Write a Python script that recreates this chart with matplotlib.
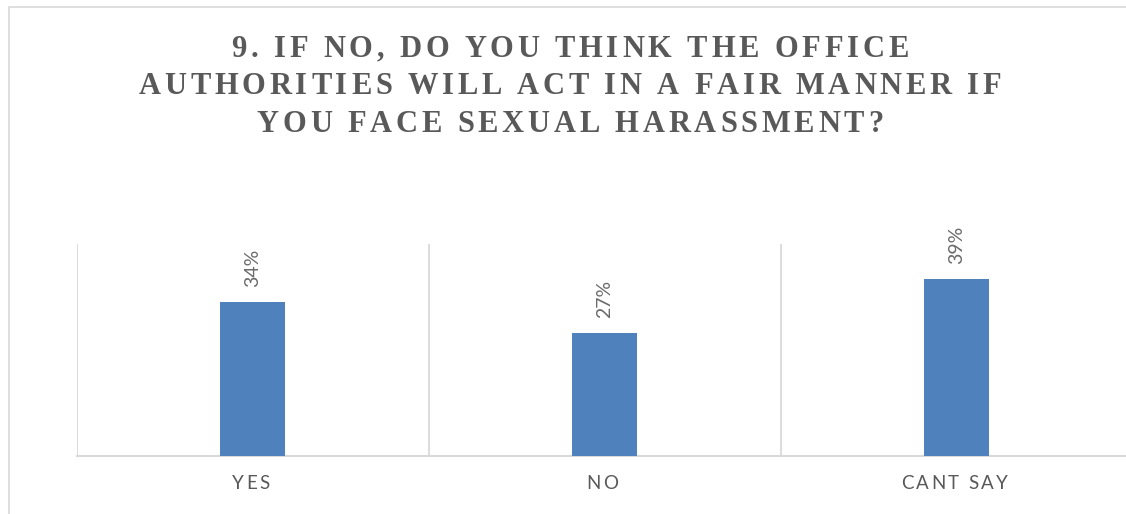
import matplotlib
matplotlib.use("Agg")
import matplotlib.pyplot as plt
from matplotlib import font_manager as fm
from matplotlib.patches import Rectangle

# ---- data ----
categories = ["YES", "NO", "CANT SAY"]
shares = [34, 27, 39]
value_labels = ["34%", "27%", "39%"]
title_lines = [
    "9. IF NO, DO YOU THINK THE OFFICE",
    "AUTHORITIES WILL ACT IN A FAIR MANNER IF",
    "YOU FACE SEXUAL HARASSMENT?",
]

W, H, DPI = 1126, 514, 100
BAR_COLOR = "#4F81BD"
GRID_COLOR = "#D9D9D9"
TEXT_DARK = "#595959"
TEXT_LABEL = "#6A6A6A"

fig = plt.figure(figsize=(W / DPI, H / DPI), dpi=DPI)
fig.patch.set_facecolor("white")

# chart frame (runs past the right and bottom edges of the canvas)
fig.add_artist(Rectangle((9 / W, -0.2), 1.5, (H - 7) / H + 0.2,
                         transform=fig.transFigure, fill=False,
                         edgecolor=GRID_COLOR, linewidth=1.2))

# plot area in pixel units
ax_left, ax_right = 76.5, 76.5 + 3 * 352
ax_top, ax_bottom = 244.3, 455.7
ax = fig.add_axes([ax_left / W, (H - ax_bottom) / H,
                   (ax_right - ax_left) / W, (ax_bottom - ax_top) / H])

x = list(range(len(categories)))
bars = ax.bar(x, shares, width=0.185, color=BAR_COLOR, zorder=3)
ax.set_xlim(-0.5, len(categories) - 0.5)
ax.set_ylim(0, 46.7)

for b in [-0.5, 0.5, 1.5, 2.5]:
    ax.axvline(b, color=GRID_COLOR, linewidth=1.3, zorder=1)

for side in ["top", "right", "left"]:
    ax.spines[side].set_visible(False)
ax.spines["bottom"].set_color(GRID_COLOR)
ax.spines["bottom"].set_linewidth(1.5)
ax.set_xticks([])
ax.set_yticks([])

pct_font = fm.FontProperties(family="Lato", size=14)
for xi, v, lab in zip(x, shares, value_labels):
    ax.annotate(lab, (xi, v), xytext=(0, 11), textcoords="offset points",
                rotation=90, ha="center", va="bottom",
                fontproperties=pct_font, color=TEXT_LABEL)

renderer = fig.canvas.get_renderer()


def advance(ch, fp):
    # horizontal advance of one character, in pixels
    w_pair = renderer.get_text_width_height_descent("HH", fp, ismath=False)[0]
    w_trip = renderer.get_text_width_height_descent("H" + ch + "H", fp, ismath=False)[0]
    return w_trip - w_pair


def tracked_text(s, cx, baseline_from_top, fp, tracking, color):
    advs = [advance(ch, fp) for ch in s]
    total = sum(advs) + tracking * (len(s) - 1)
    xpos = cx - total / 2
    for ch, a in zip(s, advs):
        if ch != " ":
            fig.text(xpos / W, 1 - baseline_from_top / H, ch,
                     fontproperties=fp, color=color,
                     ha="left", va="baseline")
        xpos += a + tracking


# title
title_font = fm.FontProperties(family="Liberation Serif", weight="bold", size=22)
for i, line in enumerate(title_lines):
    tracked_text(line, 570, 56.7 + i * 37.5, title_font, 3.8, TEXT_DARK)

# category labels
cat_font = fm.FontProperties(family="Lato", size=13.5)
for xi, cat in zip(x, categories):
    px = ax.transData.transform((xi, 0))[0]
    tracked_text(cat, px - 2, 489, cat_font, 2.3, TEXT_DARK)

fig.savefig("out.png", dpi=DPI, facecolor="white")
